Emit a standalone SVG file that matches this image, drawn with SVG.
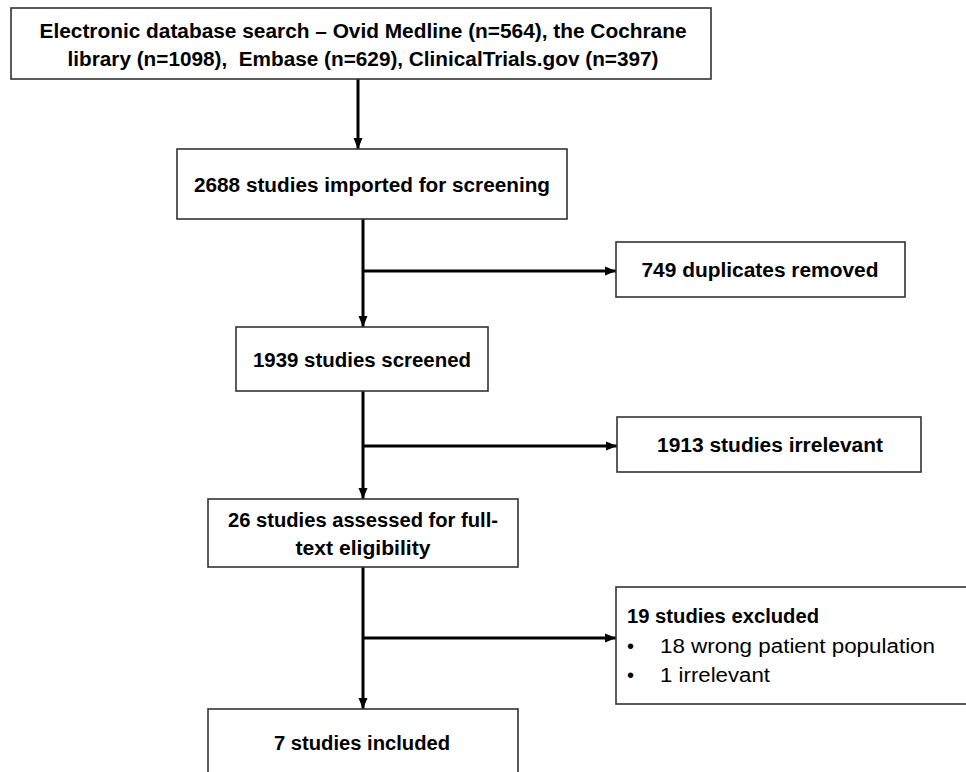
<svg xmlns="http://www.w3.org/2000/svg" width="966" height="772" viewBox="0 0 966 772">
<defs>
<style>
.box{fill:#fff;stroke:#333;stroke-width:1.6}
.t{font-family:"Liberation Sans",Arial,sans-serif;font-size:20px;fill:#000}
.b{font-weight:bold}
.c{text-anchor:middle}
.con{stroke:#000;stroke-width:3;fill:none}
</style>
<marker id="ah" markerUnits="userSpaceOnUse" markerWidth="12" markerHeight="10" refX="11" refY="5" orient="auto">
<path d="M0,0.5 L11,5 L0,9.5 z" fill="#000"/>
</marker>
</defs>
<rect width="966" height="772" fill="#fff"/>
<g id="connectors">
<line class="con" x1="358" y1="79" x2="358" y2="149" marker-end="url(#ah)"/>
<line class="con" x1="363" y1="219" x2="363" y2="327" marker-end="url(#ah)"/>
<line class="con" x1="363" y1="271" x2="616" y2="271" marker-end="url(#ah)"/>
<line class="con" x1="363" y1="391" x2="363" y2="499" marker-end="url(#ah)"/>
<line class="con" x1="363" y1="446" x2="617" y2="446" marker-end="url(#ah)"/>
<line class="con" x1="363" y1="567" x2="363" y2="709" marker-end="url(#ah)"/>
<line class="con" x1="363" y1="638" x2="616" y2="638" marker-end="url(#ah)"/>
</g>
<g id="search">
<rect class="box" x="11" y="8" width="700" height="71"/>
<text class="t b c" x="363" y="38" textLength="647" lengthAdjust="spacingAndGlyphs">Electronic database search – Ovid Medline (n=564), the Cochrane</text>
<text class="t b c" x="363" y="66" textLength="591" lengthAdjust="spacingAndGlyphs" xml:space="preserve">library (n=1098),  Embase (n=629), ClinicalTrials.gov (n=397)</text>
</g>
<g id="imported">
<rect class="box" x="177" y="149" width="390" height="70"/>
<text class="t b c" x="372" y="192" textLength="356" lengthAdjust="spacingAndGlyphs">2688 studies imported for screening</text>
</g>
<g id="duplicates">
<rect class="box" x="616" y="242" width="289" height="55"/>
<text class="t b c" x="760" y="277" textLength="237" lengthAdjust="spacingAndGlyphs">749 duplicates removed</text>
</g>
<g id="screened">
<rect class="box" x="236" y="327" width="252" height="64"/>
<text class="t b c" x="362" y="367" textLength="218" lengthAdjust="spacingAndGlyphs">1939 studies screened</text>
</g>
<g id="irrelevant">
<rect class="box" x="617" y="417" width="304" height="55"/>
<text class="t b c" x="770" y="452" textLength="226" lengthAdjust="spacingAndGlyphs">1913 studies irrelevant</text>
</g>
<g id="assessed">
<rect class="box" x="208" y="499" width="310" height="68"/>
<text class="t b c" x="363" y="527" textLength="270" lengthAdjust="spacingAndGlyphs">26 studies assessed for full-</text>
<text class="t b c" x="363" y="555" textLength="135" lengthAdjust="spacingAndGlyphs">text eligibility</text>
</g>
<g id="excluded">
<rect class="box" x="616" y="587" width="360" height="117"/>
<text class="t b" x="627" y="623" textLength="192" lengthAdjust="spacingAndGlyphs">19 studies excluded</text>
<text class="t" x="627" y="653">•</text>
<text class="t" x="660" y="653" textLength="275" lengthAdjust="spacingAndGlyphs">18 wrong patient population</text>
<text class="t" x="627" y="682">•</text>
<text class="t" x="660" y="682" textLength="110" lengthAdjust="spacingAndGlyphs">1 irrelevant</text>
</g>
<g id="included">
<rect class="box" x="208" y="709" width="310" height="80"/>
<text class="t b c" x="362" y="750" textLength="176" lengthAdjust="spacingAndGlyphs">7 studies included</text>
</g>
</svg>
